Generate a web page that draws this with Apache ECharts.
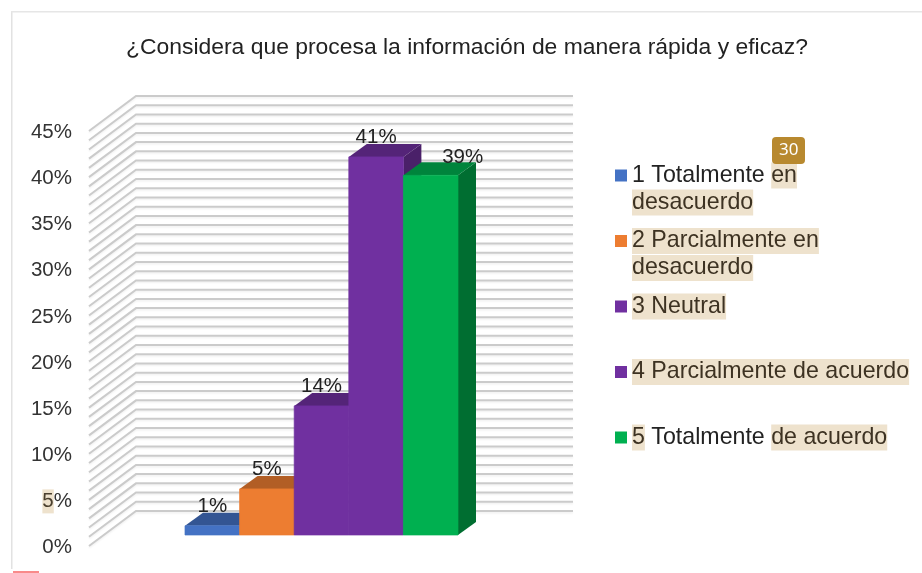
<!DOCTYPE html>
<html><head><meta charset="utf-8">
<style>html,body{margin:0;padding:0;background:#fff}#main{width:922px;height:573px;filter:blur(0.45px)}</style>
<script src="https://cdn.jsdelivr.net/npm/echarts@6/dist/echarts.min.js"></script>
</head><body><div id="main"></div>
<script>
const titleText = '¿Considera que procesa la información de manera rápida y eficaz?';
const categories = ['1 Totalmente en desacuerdo','2 Parcialmente en desacuerdo','3 Neutral','4 Parcialmente de acuerdo','5 Totalmente de acuerdo'];
const values = [1,5,14,41,39];
const frontColors = ['#4472c4','#ed7d31','#7030a0','#7030a0','#00b050'];
const topColors = ['#335593','#b25e25','#542478','#542478','#00843c'];
const sideColors = ['#2d4c85','#9e5421','#4a2069','#4a2069','#006e31'];
const gridValues = [0,1,2,3,4,5,6,7,8,9,10,11,12,13,14,15,16,17,18,19,20,21,22,23,24,25,26,27,28,29,30,31,32,33,34,35,36,37,38,39,40,41,42,43,44,45];
const legendRich = {
  '1 Totalmente en desacuerdo': '\n{p|1 Totalmente }{h|en}\n{h|desacuerdo}',
  '2 Parcialmente en desacuerdo': '\n{h|2 Parcialmente en}\n{h|desacuerdo}',
  '3 Neutral': '\n{h|3 Neutral}\n ',
  '4 Parcialmente de acuerdo': '\n{h|4 Parcialmente de acuerdo}\n ',
  '5 Totalmente de acuerdo': '\n{h|5}{p| Totalmente }{h|de acuerdo}\n '
};
const FONT = '"Liberation Sans", Arial, sans-serif';
const HL = '#eee2cd';
const WALL = {dx:47, dy:-35};
const BAR = {dx:18, dy:-13};
const labelShiftX = [0,0,0,0,32];
const labelShiftY = [1,0,0,0,2];

function wallItem(params, api){
  const p = api.coord([0, api.value(0)]);
  const r = api.coord([1, api.value(0)]);
  const bx = p[0]+WALL.dx, by = p[1]+WALL.dy, ex = r[0]+WALL.dx;
  return {type:'polyline', silent:true,
    shape:{points:[[p[0],p[1]],[bx,by],[ex,by]]},
    style:{fill:null, stroke:'#cbcbcb', lineWidth:2, shadowColor:'rgba(0,0,0,0.06)', shadowBlur:2, shadowOffsetY:1.5}};
}
function barItem(idx){
  return function(params, api){
    const top = api.coord([api.value(0), api.value(1)]);
    const base = api.coord([api.value(0), 0]);
    const w = api.size([1,0])[0];
    const l = top[0]-w/2, r = top[0]+w/2, t = top[1], b = base[1];
    const d = BAR;
    return {type:'group', children:[
      {type:'polygon', shape:{points:[[r,t],[r+d.dx,t+d.dy],[r+d.dx,b+d.dy],[r,b]]}, style:{fill:sideColors[idx]}},
      {type:'polygon', shape:{points:[[l,t],[l+d.dx,t+d.dy],[r+d.dx,t+d.dy],[r,t]]}, style:{fill:topColors[idx]}},
      {type:'rect', shape:{x:l,y:t,width:w,height:b-t}, style:{fill:frontColors[idx], stroke:frontColors[idx], lineWidth:0.7}}
    ]};
  };
}
function labelItem(params, api){
  const i = params.dataIndex;
  const top = api.coord([api.value(0), api.value(1)]);
  return {type:'text', silent:true, style:{
    x: top[0]+labelShiftX[i], y: top[1]-20+labelShiftY[i],
    text: api.value(1)+'%', fill:'#222',
    font:'20.5px '+FONT, align:'center', verticalAlign:'middle'}};
}
const barSeries = categories.map((c,i)=>({
  name:c, type:'custom', xAxisIndex:1, yAxisIndex:1, z:3,
  itemStyle:{color:frontColors[i]},
  renderItem:barItem(i), data:[[c,values[i]]], clip:false
}));
const chart = echarts.init(document.getElementById('main'));
chart.setOption({
  animation:false, backgroundColor:'#fff',
  title:{text:titleText, left:462, top:31, textAlign:'center',
    textStyle:{fontFamily:FONT,fontSize:22.9,fontWeight:'normal',color:'#222'}},
  grid:[
    {left:89, top:131, width:437, height:415},
    {left:185, top:120, width:273, height:415}
  ],
  xAxis:[
    {type:'value', gridIndex:0, min:0, max:1, show:false},
    {type:'category', gridIndex:1, data:categories, show:false}
  ],
  yAxis:[
    {type:'value', gridIndex:0, min:0, max:45, interval:5,
      axisLine:{show:false}, axisTick:{show:false}, splitLine:{show:false},
      axisLabel:{margin:17, fontFamily:FONT, fontSize:20.5, color:'#333', padding:[3,0,0,0],
        formatter:v=> v===5 ? '{h|5}%' : v+'%',
        rich:{h:{backgroundColor:HL, fontFamily:FONT, fontSize:20.5, color:'#4a3f2e', height:24}}}},
    {type:'value', gridIndex:1, min:0, max:45, show:false}
  ],
  legend:{
    left:615, top:135, padding:0, orient:'vertical', icon:'rect', itemWidth:12, itemHeight:12,
    itemGap:-15.5, selectedMode:false, data:categories,
    formatter:n=>legendRich[n],
    textStyle:{fontFamily:FONT, fontSize:23.2, lineHeight:27, color:'#222',
      rich:{
        p:{fontFamily:FONT,fontSize:23.2,lineHeight:27,color:'#222'},
        h:{fontFamily:FONT,fontSize:23.2,lineHeight:27,height:26,color:'#3d3222',backgroundColor:HL}
      }}
  },
  graphic:[
    {type:'rect', left:11, top:11, shape:{width:1.5,height:558}, style:{fill:'#e2e2e2'}},
    {type:'rect', left:11, top:11, shape:{width:911,height:1.5}, style:{fill:'#e6e6e6'}},
    {type:'rect', left:13, top:571, shape:{width:26,height:2}, style:{fill:'#f98a8a'}},
    {type:'rect', left:772, top:137, shape:{width:33,height:27,r:4}, style:{fill:'#b8892f'}, z:10},
    {type:'text', left:779, top:142, style:{text:'30', fill:'#fff', font:'17px "Noto Sans", sans-serif'}, z:11}
  ],
  series:[
    {type:'custom', xAxisIndex:0, yAxisIndex:0, z:1, silent:true, clip:false,
      renderItem:wallItem, data:gridValues.map(v=>[v]), encode:{y:0}},
    ...barSeries,
    {type:'custom', xAxisIndex:1, yAxisIndex:1, z:5, silent:true, clip:false,
      renderItem:labelItem, data:categories.map((c,i)=>[c,values[i]])}
  ]
});
</script></body></html>
